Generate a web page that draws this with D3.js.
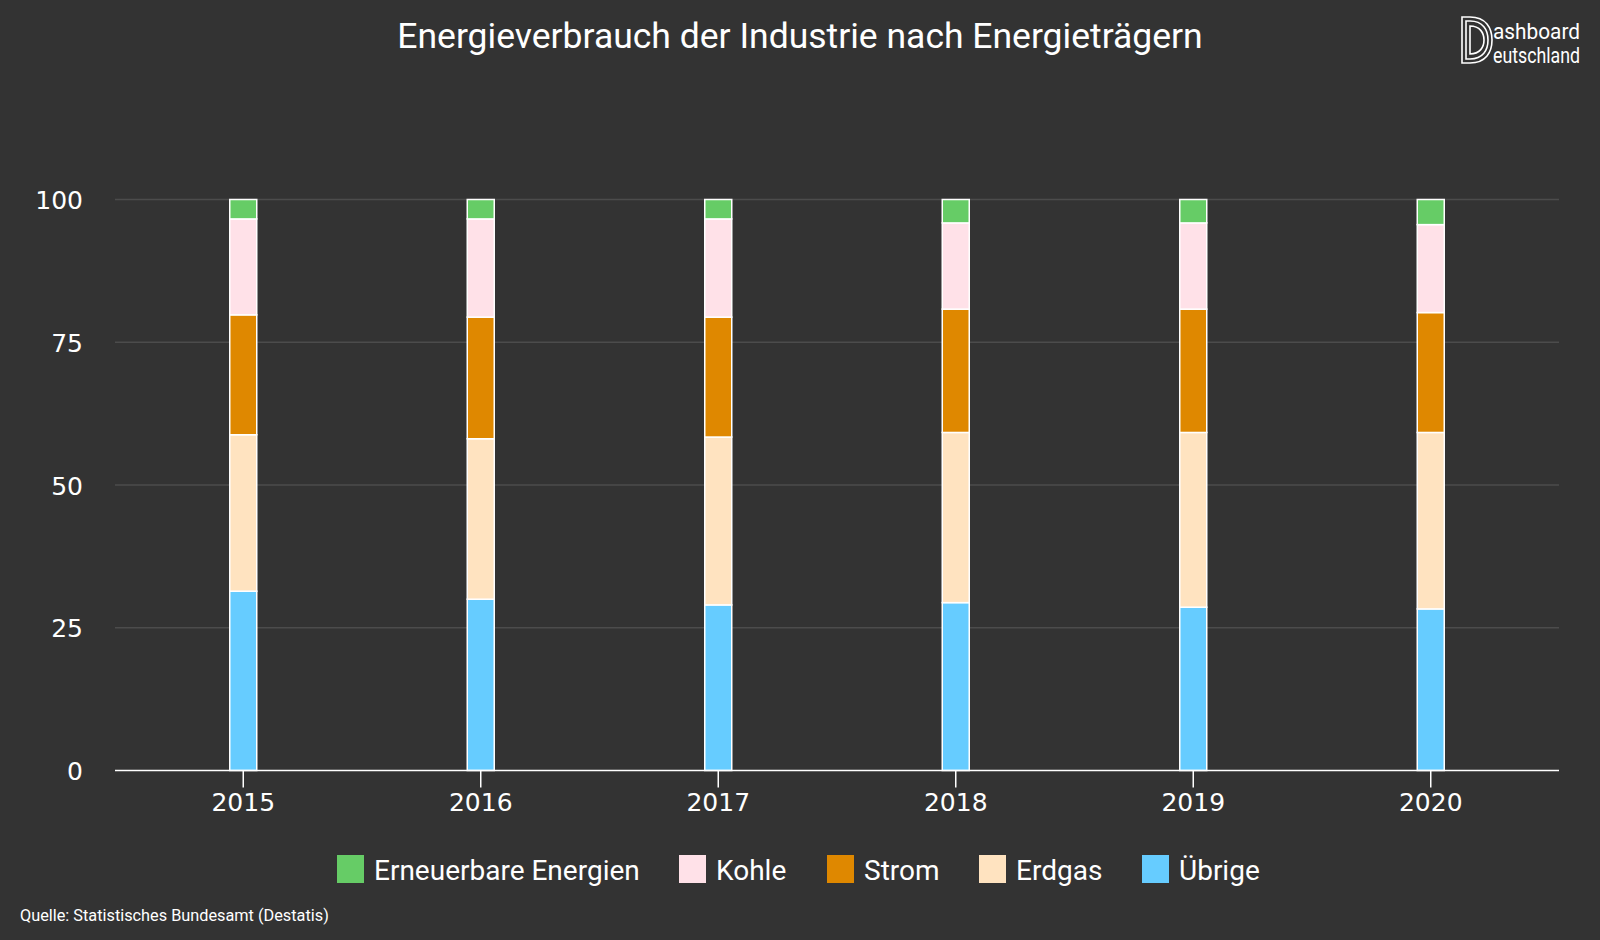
<!DOCTYPE html>
<html><head><meta charset="utf-8">
<script src="https://cdn.jsdelivr.net/npm/d3@7"></script>
<style>html,body{margin:0;padding:0;background:#333333;}svg{display:block;}</style>
</head><body>
<svg id="chart" width="1600" height="940"></svg>
<script>
const years = ["2015","2016","2017","2018","2019","2020"];
const seriesNames = ["Übrige","Erdgas","Strom","Kohle","Erneuerbare Energien"];
const uebrige     = [31.4, 30.0, 29.0, 29.4, 28.6, 28.3];
const erdgas      = [27.4, 28.1, 29.4, 29.8, 30.6, 30.9];
const strom       = [21.0, 21.3, 21.0, 21.6, 21.6, 21.0];
const kohle       = [16.8, 17.2, 17.2, 15.1, 15.1, 15.4];
const erneuerbare = [3.4, 3.4, 3.4, 4.1, 4.1, 4.4];
const yTicks = [0, 25, 50, 75, 100];
const legendOrder = ["Erneuerbare Energien","Kohle","Strom","Erdgas","Übrige"];
const colors = {"Erneuerbare Energien":"#66cc66","Kohle":"#ffe1e8","Strom":"#df8800","Erdgas":"#ffe3c0","Übrige":"#66ccff"};

const seriesValues = [uebrige, erdgas, strom, kohle, erneuerbare];
const table = years.map((y,i)=>{const o={year:y}; seriesNames.forEach((s,j)=>o[s]=seriesValues[j][i]); return o;});

const svg = d3.select("#chart");
const W=1600,H=940;
svg.append("rect").attr("width",W).attr("height",H).attr("fill","#333333");

const x0=115, x1=1559, yTop=199.5, yBot=770.5;
const x = d3.scalePoint().domain(years).range([x0,x1]).padding(0.54);
const y = d3.scaleLinear().domain([0,100]).range([yBot,yTop]);

// gridlines
svg.append("g").selectAll("line").data(yTicks.filter(t=>t>0)).join("line")
  .attr("x1",x0).attr("x2",x1).attr("y1",d=>y(d)).attr("y2",d=>y(d))
  .attr("stroke","#4c4c4c").attr("stroke-width",1.5);

// y labels
svg.append("g").selectAll("text").data(yTicks).join("text")
  .attr("x",83).attr("y",d=>y(d)+1).attr("text-anchor","end").attr("dominant-baseline","central")
  .attr("fill","#ffffff").attr("font-family","DejaVu Sans").attr("font-size",25).text(d=>d);

// bars
const stack = d3.stack().keys(seriesNames)(table);
const bw = 27;
svg.append("g").selectAll("g").data(stack).join("g")
  .attr("fill",d=>colors[d.key])
  .selectAll("rect").data(d=>d).join("rect")
  .attr("x",d=>x(d.data.year)-bw/2).attr("width",bw)
  .attr("y",d=>y(d[1])).attr("height",d=>y(d[0])-y(d[1]))
  .attr("stroke","#ffffff").attr("stroke-width",1.5);

// x axis
const xAxis = svg.append("g").attr("transform",`translate(0,${yBot})`);
xAxis.append("line").attr("x1",x0).attr("x2",x1).attr("stroke","#ffffff").attr("stroke-width",1.5);
xAxis.selectAll("line.tick").data(years).join("line").attr("class","tick")
  .attr("x1",d=>x(d)).attr("x2",d=>x(d)).attr("y1",0).attr("y2",17)
  .attr("stroke","#ffffff").attr("stroke-width",1.5);
xAxis.selectAll("text").data(years).join("text")
  .attr("x",d=>x(d)).attr("y",32).attr("text-anchor","middle").attr("dominant-baseline","central")
  .attr("fill","#ffffff").attr("font-family","DejaVu Sans").attr("font-size",25).text(d=>d);

// title
svg.append("text").attr("x",800).attr("y",36).attr("text-anchor","middle").attr("dominant-baseline","central")
  .attr("fill","#ffffff").attr("font-family","Roboto").attr("font-size",35.5).text("Energieverbrauch der Industrie nach Energieträgern");

// legend
const legendX = [337, 679, 827, 979, 1142];
const lg = svg.append("g").selectAll("g").data(legendOrder).join("g")
  .attr("transform",(d,i)=>`translate(${legendX[i]},855)`);
lg.append("rect").attr("width",27).attr("height",28).attr("fill",d=>colors[d]);
lg.append("text").attr("x",37).attr("y",15).attr("dominant-baseline","central")
  .attr("fill","#ffffff").attr("font-family","Roboto").attr("font-size",28).text(d=>d);

// source
svg.append("text").attr("x",20).attr("y",915).attr("dominant-baseline","central")
  .attr("fill","#ffffff").attr("font-family","Roboto").attr("font-size",16.3).text("Quelle: Statistisches Bundesamt (Destatis)");

// logo
const logo = svg.append("g").attr("fill","none").attr("stroke","#ffffff").attr("stroke-width",1.6);
logo.append("path").attr("d","M1462,17 L1470,17 C1486,17 1492,28 1492,40 C1492,52 1486,63 1470,63 L1462,63 Z");
logo.append("path").attr("d","M1466,21 L1470,21 C1483,21 1488,30 1488,40 C1488,50 1483,59 1470,59 L1466,59 Z");
logo.append("path").attr("d","M1470,26 L1470,54 C1480,54 1484,47 1484,40 C1484,33 1480,26 1470,26 Z");
svg.append("text").attr("x",1493).attr("y",39).attr("fill","#ffffff").attr("font-family","Roboto")
  .attr("font-size",22).attr("textLength",87).attr("lengthAdjust","spacingAndGlyphs").text("ashboard");
svg.append("text").attr("x",1493).attr("y",63).attr("fill","#ffffff").attr("font-family","Roboto")
  .attr("font-size",22).attr("textLength",87).attr("lengthAdjust","spacingAndGlyphs").text("eutschland");
</script>
</body></html>
